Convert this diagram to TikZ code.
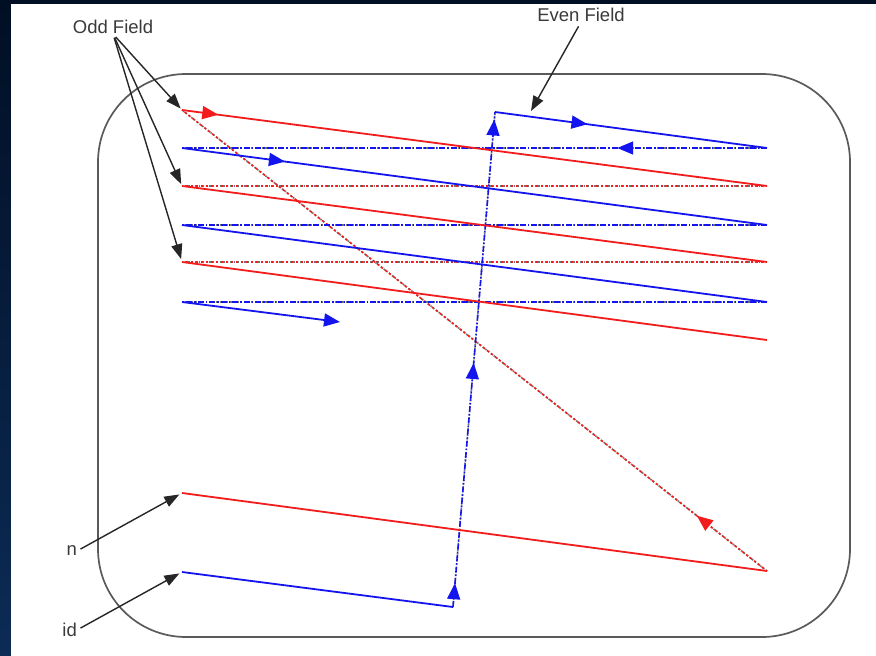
\documentclass[tikz,border=0pt]{standalone}
\usepackage{fontspec}
\setmainfont{Liberation Sans}
\usetikzlibrary{arrows.meta,decorations.markings,calc}
\definecolor{navy}{HTML}{010F24}
\definecolor{navyb}{HTML}{0C2B55}
\definecolor{scanred}{HTML}{F21C1C}
\definecolor{scanblue}{HTML}{1414EE}
\definecolor{boxgray}{HTML}{5A5A5A}
\definecolor{txtgray}{HTML}{3A3A3A}
\begin{document}
\begin{tikzpicture}[x=1pt,y=-1pt,
  lbl/.style={inner sep=0pt, text=txtgray, font=\fontsize{18.5}{20}\selectfont},
  oddline/.style={scanred, line width=1.8pt},
  evenline/.style={scanblue, line width=1.8pt},
  under/.style={black!55, line width=1.6pt, dash pattern=on 1.5pt off 2pt},
  oddret/.style={scanred, line width=1.6pt, dash pattern=on 2.5pt off 2.5pt, dash phase=1pt},
  evenret/.style={scanblue, line width=1.6pt, dash pattern=on 6pt off 2pt on 1.5pt off 2pt},
  callout/.style={black!85, line width=1.4pt, -{Triangle[length=15pt,width=11pt]}},
  midarrow/.style={postaction={decorate, decoration={markings,
      mark=at position #1 with {\arrow{Triangle[length=16pt,width=13pt]}}}}}
]
\useasboundingbox (0,0) rectangle (876,656);
% background frame
\fill[navy] (0,0) rectangle (876,656);
\shade[top color=navy, bottom color=navyb] (0,0) rectangle (11,656);
\fill[white] (11,4) rectangle (876,656);
% rounded screen
\draw[boxgray, line width=1.7pt, rounded corners=88pt] (98,74) rectangle (850,637);

% coordinates of scan lines
\coordinate (r0s) at (182,110); \coordinate (r0e) at (767,186);
\coordinate (r1s) at (182,186); \coordinate (r1e) at (767,262);
\coordinate (r2s) at (182,262); \coordinate (r2e) at (767,340);
\coordinate (b0s) at (182,148); \coordinate (b0e) at (767,225);
\coordinate (b1s) at (182,225); \coordinate (b1e) at (767,302);
\coordinate (b2s) at (182,302); \coordinate (b2e) at (340,322);
\coordinate (etop) at (495,112); \coordinate (etopE) at (767,148);
\coordinate (rbs) at (182,493); \coordinate (rbe) at (767,571);
\coordinate (bbs) at (182,572); \coordinate (bbe) at (453,607);
\coordinate (evtgt) at (531,111);

% retrace lines (odd field)
\draw[under] (r0e) -- (r1s);
\draw[oddret] (r0e) -- (r1s);
\draw[under] (r1e) -- (r2s);
\draw[oddret] (r1e) -- (r2s);
\draw[under] (rbe) -- (r0s);
\draw[oddret, midarrow=0.12] (rbe) -- (r0s);
% retrace lines (even field)
\draw[under] (etopE) -- (b0s);
\draw[evenret, midarrow=0.256] (etopE) -- (b0s);
\draw[under] (b0e) -- (b1s);
\draw[evenret] (b0e) -- (b1s);
\draw[under] (b1e) -- (b2s);
\draw[evenret] (b1e) -- (b2s);
\draw[under] (bbe) -- (etop);
\draw[evenret, postaction={decorate, decoration={markings,
    mark=at position 0.048 with {\arrow{Triangle[length=16pt,width=13pt]}},
    mark=at position 0.493 with {\arrow{Triangle[length=16pt,width=13pt]}},
    mark=at position 0.985 with {\arrow{Triangle[length=16pt,width=13pt]}}}}] (bbe) -- (etop);

% active scan lines
\draw[oddline, midarrow=0.062] (r0s) -- (r0e);
\draw[oddline] (r1s) -- (r1e);
\draw[oddline] (r2s) -- (r2e);
\draw[oddline] (rbs) -- (rbe);
\draw[evenline, midarrow=0.34] (etop) -- (etopE);
\draw[evenline, midarrow=0.176] (b0s) -- (b0e);
\draw[evenline] (b1s) -- (b1e);
\draw[evenline, -{Triangle[length=16pt,width=13pt]}] (b2s) -- (b2e);
\draw[evenline] (bbs) -- (bbe);

% labels
\node[lbl] (odd) at (113,27) {Odd Field};
\node[lbl] (even) at (581,15) {Even Field};
\node[lbl, anchor=east] (nl) at (77,551) {n};
\node[lbl, anchor=east] (idl) at (77,630) {id};

% callouts
\draw[callout, shorten <=4pt, shorten >=2pt] (odd.south) -- (r0s);
\draw[callout, shorten <=4pt, shorten >=2pt] (odd.south) -- (r1s);
\draw[callout, shorten <=4pt, shorten >=3pt] (odd.south) -- (r2s);
\draw[callout, shorten <=5pt] (even.south) -- (evtgt);
\draw[callout, shorten <=4pt, shorten >=3pt] (nl.east) -- (rbs);
\draw[callout, shorten <=4pt, shorten >=3pt] (idl.east) -- (bbs);
\end{tikzpicture}
\end{document}
